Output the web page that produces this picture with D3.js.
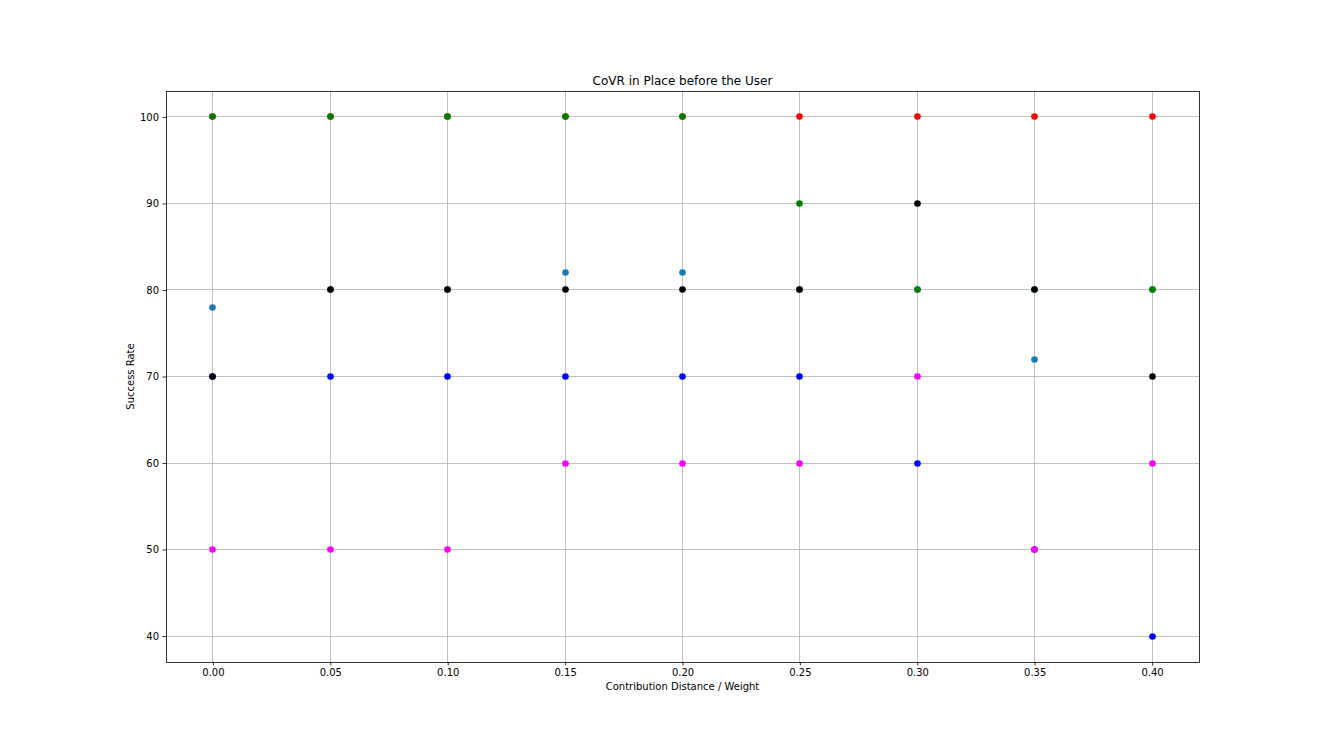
<!DOCTYPE html>
<html>
<head>
<meta charset="utf-8">
<script src="https://cdn.jsdelivr.net/npm/d3@7"></script>
<style>
  html, body { margin: 0; padding: 0; background: #fff; }
  svg { display: block; }
  text { font-family: "DejaVu Sans", sans-serif; fill: #000; }
</style>
</head>
<body>
<script>
// ---- data ----
const xValues = [0.00, 0.05, 0.10, 0.15, 0.20, 0.25, 0.30, 0.35, 0.40];
const xTicks = [0.00, 0.05, 0.10, 0.15, 0.20, 0.25, 0.30, 0.35, 0.40];
const yTicks = [40, 50, 60, 70, 80, 90, 100];
// draw order matters (later on top)
const seriesSteel   = [78, 80, 80, 82, 82, 80, 80, 72, 80];
const seriesRed     = [100, 100, 100, 100, 100, 100, 100, 100, 100];
const seriesGreen   = [100, 100, 100, 100, 100, 90, 80, 80, 80];
const seriesBlue    = [70, 70, 70, 70, 70, 70, 60, 50, 40];
const seriesMagenta = [50, 50, 50, 60, 60, 60, 70, 50, 60];
const seriesBlack   = [70, 80, 80, 80, 80, 80, 90, 80, 70];
const seriesList = [
  { values: seriesSteel,   color: "#1f77b4" },
  { values: seriesRed,     color: "#ff0000" },
  { values: seriesGreen,   color: "#008000" },
  { values: seriesBlue,    color: "#0000ff" },
  { values: seriesMagenta, color: "#ff00ff" },
  { values: seriesBlack,   color: "#000000" }
];
const chartTitle = "CoVR in Place before the User";
const xLabel = "Contribution Distance / Weight";
const yLabel = "Success Rate";

// ---- layout ----
const W = 1332, H = 756;
const mLeft = 166, mRight = 1199, mTop = 91, mBottom = 662;

const svg = d3.select("body").append("svg").attr("width", W).attr("height", H);

const x = d3.scaleLinear().domain([-0.02, 0.42]).range([mLeft, mRight]);
const y = d3.scaleLinear().domain([37, 103]).range([mBottom, mTop]);

// grid
const grid = svg.append("g");
grid.selectAll("line.gx").data(xTicks).join("line")
  .attr("x1", d => Math.floor(x(d)) + 0.5).attr("x2", d => Math.floor(x(d)) + 0.5)
  .attr("y1", mTop).attr("y2", mBottom)
  .attr("stroke", "#b0b0b0").attr("stroke-width", 0.8);
grid.selectAll("line.gy").data(yTicks).join("line")
  .attr("y1", d => Math.floor(y(d)) + 0.5).attr("y2", d => Math.floor(y(d)) + 0.5)
  .attr("x1", mLeft).attr("x2", mRight)
  .attr("stroke", "#b0b0b0").attr("stroke-width", 0.8);

// points
seriesList.forEach(s => {
  svg.append("g").selectAll("circle").data(s.values.map((v, i) => [xValues[i], v])).join("circle")
    .attr("cx", d => Math.floor(x(d[0])) + 0.5).attr("cy", d => Math.floor(y(d[1])) + 0.5)
    .attr("r", 3.3).attr("fill", s.color);
});

// axes
const xAxis = d3.axisBottom(x).tickValues(xTicks).tickFormat(d3.format(".2f")).tickSize(3.5).tickPadding(3.5);
const yAxis = d3.axisLeft(y).tickValues(yTicks).tickFormat(d3.format("d")).tickSize(3.5).tickPadding(3.5);
const gx = svg.append("g").attr("transform", `translate(0,${mBottom})`).call(xAxis);
const gy = svg.append("g").attr("transform", `translate(${mLeft},0)`).call(yAxis);
[gx, gy].forEach(g => {
  g.select(".domain").remove();
  g.selectAll(".tick line").attr("stroke", "#000").attr("stroke-width", 0.8);
  g.selectAll(".tick text").attr("font-size", 10).attr("font-family", "DejaVu Sans, sans-serif").attr("fill", "#000");
});

// frame
svg.append("rect").attr("x", mLeft + 0.5).attr("y", mTop + 0.5).attr("width", mRight - mLeft).attr("height", mBottom - mTop)
  .attr("fill", "none").attr("stroke", "#000").attr("stroke-width", 0.8);

// labels
svg.append("text").attr("x", (mLeft + mRight) / 2).attr("y", mTop - 6).attr("text-anchor", "middle")
  .attr("font-size", 12).text(chartTitle);
svg.append("text").attr("x", (mLeft + mRight) / 2).attr("y", 690).attr("text-anchor", "middle")
  .attr("font-size", 10).text(xLabel);
svg.append("text").attr("transform", `translate(134,${(mTop + mBottom) / 2}) rotate(-90)`).attr("text-anchor", "middle")
  .attr("font-size", 10).text(yLabel);
</script>
</body>
</html>
